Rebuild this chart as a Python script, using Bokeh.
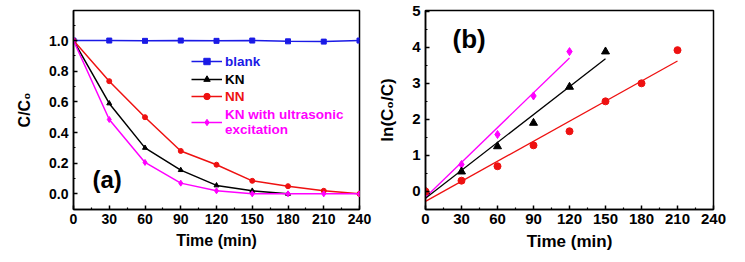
import numpy as np
from bokeh.plotting import figure
from bokeh.layouts import row
from bokeh.models import (Range1d, FixedTicker, PrintfTickFormatter, Legend, LegendItem, Label)
from bokeh.embed import file_html
from bokeh.resources import INLINE

# ---- data (a) ----
time_a = [0, 30, 60, 90, 120, 150, 180, 210, 240]
blank = [1.0, 1.0, 0.998, 1.0, 0.998, 1.0, 0.995, 0.993, 1.0]
time_kn = [0, 30, 60, 90, 120, 150, 180]
kn = [1.0, 0.59, 0.30, 0.155, 0.055, 0.02, 0.0]
nn = [1.0, 0.735, 0.50, 0.28, 0.19, 0.085, 0.05, 0.02, 0.0]
kn_us = [1.0, 0.485, 0.205, 0.07, 0.02, 0.0, 0.0, 0.0, 0.0]

# ---- data (b) ----
time_b_us = [0, 30, 60, 90, 120]
ln_us = [0.0, 0.75, 1.58, 2.65, 3.88]
time_b_kn = [0, 30, 60, 90, 120, 150]
ln_kn = [0.0, 0.55, 1.25, 1.9, 2.9, 3.88]
time_b_nn = [0, 30, 60, 90, 120, 150, 180, 210]
ln_nn = [0.0, 0.3, 0.7, 1.28, 1.67, 2.5, 3.0, 3.92]

x_ticks = [0, 30, 60, 90, 120, 150, 180, 210, 240]
x_minor = [15, 45, 75, 105, 135, 165, 195, 225]

BLUE = "#1a1ae6"
BLACK = "#000000"
RED = "#ee1111"
MAG = "#ff00ff"
FONT = "Liberation Sans"


def style(p, xlabel, ylabel, ylabel_standoff, tick_size, title_size):
    p.outline_line_color = "black"
    p.outline_line_width = 1.5
    p.xgrid.visible = False
    p.ygrid.visible = False
    for ax in (p.xaxis[0], p.yaxis[0]):
        ax.axis_line_width = 1.5
        ax.major_tick_in = 4
        ax.major_tick_out = 0
        ax.minor_tick_in = 2
        ax.minor_tick_out = 0
        ax.major_tick_line_width = 1.5
        ax.minor_tick_line_width = 1.2
        ax.major_label_text_font = FONT
        ax.major_label_text_font_style = "bold"
        ax.major_label_text_font_size = tick_size
        ax.major_label_text_color = "black"
        ax.axis_label_text_font = FONT
        ax.axis_label_text_font_style = "bold"
        ax.axis_label_text_font_size = title_size
        ax.axis_label_text_color = "black"
    p.xaxis.axis_label = xlabel
    p.yaxis.axis_label = ylabel
    p.xaxis.major_label_standoff = 4
    p.xaxis.axis_label_standoff = 5
    p.yaxis.major_label_standoff = 5
    p.yaxis.axis_label_standoff = ylabel_standoff
    p.xaxis.ticker = FixedTicker(ticks=x_ticks, minor_ticks=x_minor)


# ---------- panel (a) ----------
p1 = figure(width=375, height=258, output_backend="svg", toolbar_location=None,
            x_range=Range1d(0, 240), y_range=Range1d(-0.102, 1.196),
            min_border_left=73, min_border_right=16, min_border_top=10, min_border_bottom=49)
style(p1, "Time (min)", "C/C\u2080", 13, "14px", "16px")
p1.yaxis.ticker = FixedTicker(ticks=[0, 0.2, 0.4, 0.6, 0.8, 1.0],
                              minor_ticks=[-0.1, 0.1, 0.3, 0.5, 0.7, 0.9, 1.1])
p1.yaxis.formatter = PrintfTickFormatter(format="%.1f")

series = [
    (time_a, blank, BLUE, "square", 5, "blank", 140),
    (time_kn, kn, BLACK, "triangle", 5, "KN", 122),
    (time_a, nn, RED, "circle", 5, "NN", 105),
    (time_a, kn_us, MAG, "diamond", 6, "KN with ultrasonic\nexcitation", 72),
]
for xs, ys, col, mk, sz, lab, ly in series:
    l = p1.line(xs, ys, line_color=col, line_width=1.5)
    s = p1.scatter(xs, ys, marker=mk, size=sz, fill_color=col, line_color=col)
    leg = Legend(items=[LegendItem(label=lab, renderers=[l, s])], location=(118, ly),
                 padding=0, margin=0, border_line_color=None, background_fill_alpha=0,
                 glyph_width=31, glyph_height=16, label_height=16, spacing=1,
                 label_standoff=3, label_text_font=FONT, label_text_font_style="bold",
                 label_text_font_size="13.5px", label_text_color=col)
    p1.add_layout(leg)

p1.add_layout(Label(x=19, y=17, x_units="screen", y_units="screen", text="(a)",
                    text_font=FONT, text_font_style="bold", text_font_size="24px",
                    text_color="black"))

# ---------- panel (b) ----------
p2 = figure(width=366, height=258, output_backend="svg", toolbar_location=None,
            x_range=Range1d(0, 240), y_range=Range1d(-0.5, 5.02),
            min_border_left=49, min_border_right=28, min_border_top=10, min_border_bottom=49)
style(p2, "Time (min)", "ln(C\u2080/C)", 12, "15px", "17px")
p2.yaxis.ticker = FixedTicker(ticks=[0, 1, 2, 3, 4, 5],
                              minor_ticks=[-0.5, 0.5, 1.5, 2.5, 3.5, 4.5])

for xs, ys, col, mk, sz in [
    (time_b_us, ln_us, MAG, "diamond", 8),
    (time_b_kn, ln_kn, BLACK, "triangle", 8),
    (time_b_nn, ln_nn, RED, "circle", 7),
]:
    k, b = np.polyfit(np.array(xs, float), np.array(ys, float), 1)
    fx = np.array([0.0, float(xs[-1])])
    p2.line(fx, k * fx + b, line_color=col, line_width=1.3)
    p2.scatter(xs, ys, marker=mk, size=sz, fill_color=col, line_color=col)

p2.add_layout(Label(x=27, y=156, x_units="screen", y_units="screen", text="(b)",
                    text_font=FONT, text_font_style="bold", text_font_size="26px",
                    text_color="black"))

layout = row(p1, p2)
open("out.html", "w").write(file_html(layout, INLINE))
